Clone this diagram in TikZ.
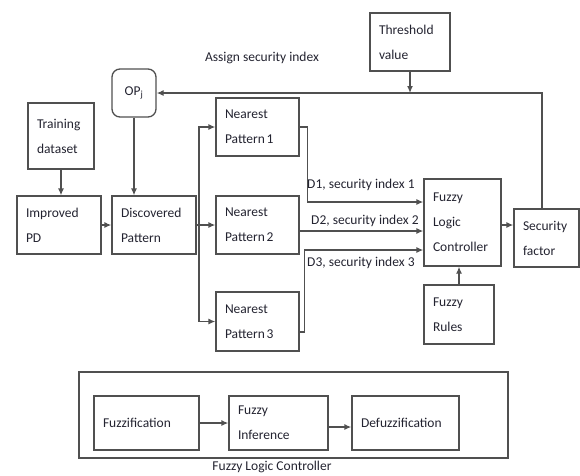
\documentclass[tikz,border=0pt]{standalone}
\usepackage{fontspec}
\setmainfont{Carlito}
\usetikzlibrary{arrows.meta,calc}
\definecolor{ln}{RGB}{80,80,80}
\definecolor{tx}{RGB}{35,35,48}
\tikzset{
  bx/.style={draw=ln, line width=1.3pt, text=tx, align=left, inner xsep=9pt, inner ysep=0pt,
    font={\fontsize{13.5}{25}\selectfont}},
  lbl/.style={text=tx, inner sep=0pt, font={\fontsize{13.5}{16}\selectfont}},
  con/.style={draw=ln, line width=1.3pt},
  arr/.style={con, -{Latex[length=7pt,width=6pt]}}
}
\newcommand{\patn}[1]{Pattern\hspace{0.12em}#1}
\begin{document}
\begin{tikzpicture}[x=1pt,y=-1pt]
\useasboundingbox (0,0) rectangle (580,475);
% boxes
\node[bx, text width=48pt, minimum height=66pt] (train) at (61,136) {Training\\dataset};
\node[bx, rounded corners=8pt, align=center, inner xsep=0pt, text width=44pt, minimum height=48pt] (op) at (134,93) {OP\textsubscript{j}};
\node[bx, text width=66pt, minimum height=58pt] (imp) at (59,225) {Improved\\PD};
\node[bx, text width=66pt, minimum height=58pt] (disc) at (154,225) {Discovered\\Pattern};
\node[bx, text width=65pt, minimum height=58pt] (np1) at (257.5,127) {Nearest\\\patn{1}};
\node[bx, text width=65pt, minimum height=58pt] (np2) at (257.5,225) {Nearest\\\patn{2}};
\node[bx, text width=65pt, minimum height=59pt] (np3) at (257.5,321.5) {Nearest\\\patn{3}};
\node[bx, text width=62pt, minimum height=58pt] (thr) at (410,42) {Threshold\\value};
\node[bx, text width=59pt, minimum height=87pt] (flc) at (462.5,222.5) {Fuzzy\\Logic\\Controller};
\node[bx, text width=47pt, minimum height=58pt] (sf) at (546.5,238) {Security\\factor};
\node[bx, text width=52pt, minimum height=59pt] (rules) at (459,314.5) {Fuzzy\\Rules};
% lower block
\node[bx, inner xsep=0pt, text width=429pt, minimum height=86pt] (outer) at (293.5,415) {};
\node[bx, text width=87pt, minimum height=54pt] (fz) at (146.5,423) {Fuzzification};
\node[bx, text width=81pt, minimum height=54pt] (fi) at (278.5,423) {Fuzzy\\Inference};
\node[bx, text width=89pt, minimum height=54pt] (dfz) at (405.5,423) {Defuzzification};
% labels
\node[lbl] (assign) at (262,58) {Assign security index};
\node[lbl, anchor=west] (l1) at (307,185) {D1, security index 1};
\node[lbl, anchor=west] (l2) at (311,221) {D2, security index 2};
\node[lbl, anchor=west] (l3) at (307,263) {D3, security index 3};
\node[lbl] (flcl) at (272,467) {Fuzzy Logic Controller};
% connectors
\draw[arr] (train.south) -- (imp.north -| train.south);
\draw[arr] (op.south) -- (op.south |- disc.north);
\draw[arr] (imp.east) -- (disc.west);
\coordinate (br) at (199,225);
\draw[con] (disc.east) -- (br);
\draw[arr] (br) |- (np1.west);
\draw[arr] (br) -- (np2.west);
\draw[arr] (br) |- (np3.west);
\coordinate (d1in) at ($(flc.west)+(0,-20.5)$);
\coordinate (d2in) at ($(flc.west)+(0,8.5)$);
\coordinate (d3in) at ($(flc.west)+(0,27.5)$);
\draw[arr] (np1.east) -- ++(8,0) |- (d1in);
\draw[arr] (np2.east |- d2in) -- (d2in);
\draw[arr] ($(np3.east)+(0,10.5)$) -- ++(5,0) |- (d3in);
\coordinate (fo) at ($(flc.east)+(0,2.5)$);
\draw[arr] (fo) -- (fo -| sf.west);
\draw[arr] ($(sf.north)+(-4.5,0)$) |- (op.east);
\draw[arr] (thr.south) -- (thr.south |- op.east);
\draw[arr] (rules.north) -- (rules.north |- flc.south);
\draw[arr] (fz.east) -- (fz.east -| fi.west);
\draw[arr] ($(fi.east)+(0,4)$) -- ($(dfz.west)+(0,4)$);
\end{tikzpicture}
\end{document}
